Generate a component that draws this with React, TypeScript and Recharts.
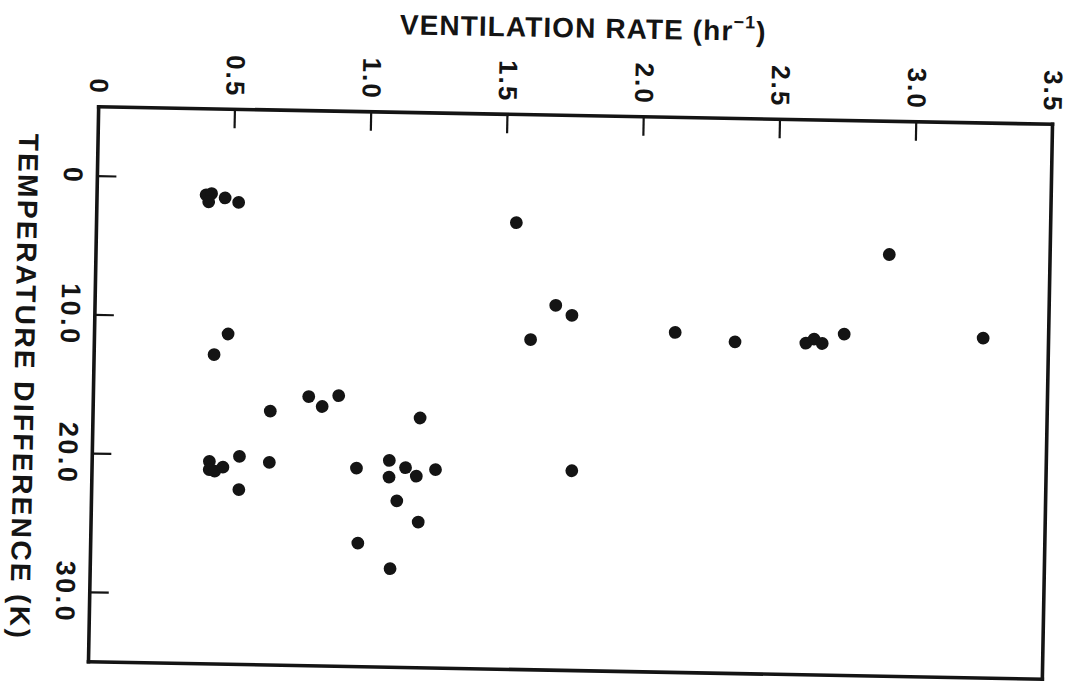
import { ScatterChart, Scatter, XAxis, YAxis, Label } from 'recharts';

// ventilation rate (hr^-1) vs temperature difference (K)
const ventRate = [
  0.40, 0.42, 0.41, 0.47, 0.52, 1.54, 2.91, 1.69, 1.75, 1.60,
  2.13, 2.35, 2.61, 2.64, 2.67, 2.75, 3.26, 0.49, 0.44, 0.65,
  0.79, 0.84, 0.90, 1.20, 0.43, 0.43, 0.45, 0.48, 0.54, 0.65,
  0.54, 0.97, 1.09, 1.09, 1.15, 1.19, 1.26, 1.12, 1.20, 0.98,
  1.10, 1.76,
];
const tempDiff = [
  1.2, 1.1, 1.7, 1.4, 1.7, 2.8, 4.6, 8.7, 9.4, 11.2,
  10.5, 11.1, 11.1, 10.8, 11.1, 10.4, 10.5, 11.2, 12.7, 16.7,
  15.6, 16.3, 15.5, 17.0, 20.4, 21.0, 21.1, 20.8, 20.0, 20.4,
  22.4, 20.7, 20.1, 21.3, 20.6, 21.2, 20.7, 23.0, 24.5, 26.1,
  27.9, 20.6,
];
const rateTicks = [0, 0.5, 1.0, 1.5, 2.0, 2.5, 3.0, 3.5];
const tempTicks = [0, 10, 20, 30];

const points = ventRate.map((rate, i) => ({ rate, temp: tempDiff[i] }));

const INK = '#141414';
const FONT = '"Liberation Sans", Arial, Helvetica, sans-serif';
const TICK_LEN = 19;
const frame = { stroke: INK, strokeWidth: 3.6, strokeLinecap: 'square' as const };

const fmtRate = (v: number) => (v === 0 ? '0' : v.toFixed(1));
const fmtTemp = (v: number) => (v === 0 ? '0' : v.toFixed(1));
const isEdge = (v: number) => v === rateTicks[0] || v === rateTicks[rateTicks.length - 1];

function TopTick({ x, y, payload }: any) {
  const v = payload.value;
  const ly = y - 12;
  return (
    <g>
      {!isEdge(v) && <line x1={x} y1={y} x2={x} y2={y + TICK_LEN} stroke={INK} strokeWidth={2.2} />}
      <text
        x={x}
        y={ly}
        transform={`rotate(90, ${x}, ${ly})`}
        textAnchor="end"
        dominantBaseline="central"
        fontSize={26}
        fontWeight="bold"
        letterSpacing={2}
        fontFamily={FONT}
        fill={INK}
      >
        {fmtRate(v)}
      </text>
    </g>
  );
}

function BottomTick({ x, y, payload }: any) {
  if (isEdge(payload.value)) return <g />;
  return <line x1={x} y1={y} x2={x} y2={y - TICK_LEN} stroke={INK} strokeWidth={2.2} />;
}

function LeftTick({ x, y, payload }: any) {
  const lx = x - 24.5;
  return (
    <g>
      <line x1={x} y1={y} x2={x + TICK_LEN} y2={y} stroke={INK} strokeWidth={2.2} />
      <text
        x={lx}
        y={y}
        transform={`rotate(90, ${lx}, ${y})`}
        textAnchor="middle"
        dominantBaseline="central"
        fontSize={27}
        fontWeight="bold"
        letterSpacing={2.5}
        fontFamily={FONT}
        fill={INK}
      >
        {fmtTemp(payload.value)}
      </text>
    </g>
  );
}

function RightTick({ x, y }: any) {
  return <line x1={x} y1={y} x2={x - TICK_LEN} y2={y} stroke={INK} strokeWidth={2.2} />;
}

function Dot({ cx, cy }: any) {
  return <circle cx={cx} cy={cy} r={6.4} fill={INK} />;
}

const renderTitle = ({ viewBox }: any) => (
  <text
    x={viewBox.x + viewBox.width / 2 + 6}
    y={28}
    textAnchor="middle"
    dominantBaseline="central"
    fontSize={28}
    fontWeight="bold"
    letterSpacing={1.1}
    fontFamily={FONT}
    fill={INK}
  >
    VENTILATION RATE (hr
    <tspan dy={-9} fontSize={18}>−1</tspan>
    <tspan dy={9}>)</tspan>
  </text>
);

const renderYTitle = ({ viewBox }: any) => {
  const cx = viewBox.x + 24;
  const cy = viewBox.y + viewBox.height / 2 + 4;
  return (
    <text
      x={cx}
      y={cy}
      transform={`rotate(90, ${cx}, ${cy})`}
      textAnchor="middle"
      dominantBaseline="central"
      fontSize={28}
      fontWeight="bold"
      letterSpacing={2.4}
      fontFamily={FONT}
      fill={INK}
    >
      TEMPERATURE DIFFERENCE (K)
    </text>
  );
};

export default function App() {
  return (
    <div
      style={{
        position: 'absolute',
        left: 0,
        top: 0,
        width: 1084,
        height: 685,
        background: '#fff',
        transform: 'rotate(1.05deg)',
        transformOrigin: '570.5px 393px',
      }}
    >
      <ScatterChart width={1084} height={685} margin={{ top: 0, right: 0, bottom: 0, left: 0 }}>
        <XAxis
          xAxisId="top"
          orientation="top"
          type="number"
          dataKey="rate"
          domain={[0, 3.5]}
          ticks={rateTicks}
          height={115.5}
          axisLine={frame}
          tickLine={false}
          tickSize={0}
          tickMargin={0}
          tick={<TopTick />}
          interval={0}
        >
          <Label content={renderTitle} />
        </XAxis>
        <XAxis
          xAxisId="bottom"
          orientation="bottom"
          type="number"
          dataKey="rate"
          domain={[0, 3.5]}
          ticks={rateTicks}
          height={14.5}
          axisLine={frame}
          tickLine={false}
          tickSize={0}
          tickMargin={0}
          tick={<BottomTick />}
          interval={0}
        />
        <YAxis
          yAxisId="left"
          orientation="left"
          type="number"
          dataKey="temp"
          domain={[-5, 35]}
          reversed
          ticks={tempTicks}
          width={93.5}
          axisLine={frame}
          tickLine={false}
          tickSize={0}
          tickMargin={0}
          tick={<LeftTick />}
          interval={0}
        >
          <Label content={renderYTitle} />
        </YAxis>
        <YAxis
          yAxisId="right"
          orientation="right"
          type="number"
          dataKey="temp"
          domain={[-5, 35]}
          reversed
          ticks={tempTicks}
          width={36.5}
          axisLine={frame}
          tickLine={false}
          tickSize={0}
          tickMargin={0}
          tick={<RightTick />}
          interval={0}
        />
        <Scatter
          data={points}
          xAxisId="top"
          yAxisId="left"
          shape={<Dot />}
          isAnimationActive={false}
        />
      </ScatterChart>
    </div>
  );
}
